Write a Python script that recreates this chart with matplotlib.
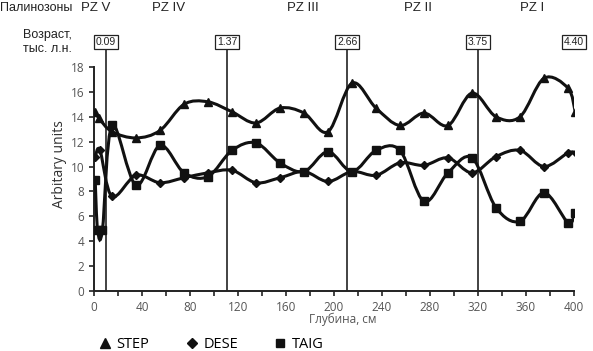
import numpy as np
import matplotlib.pyplot as plt
from matplotlib.path import Path
from matplotlib.patches import PathPatch
from matplotlib.lines import Line2D

plt.rcParams['font.family'] = ['Open Sans', 'DejaVu Sans']

# depth, cm
STEP_X = [1, 4, 15, 35, 55, 75, 95, 115, 135, 155, 175, 195, 215, 235, 255, 275, 295, 315, 335, 355, 375, 395, 401]
STEP_Y = [14.4, 13.9, 12.8, 12.3, 12.9, 15.0, 15.2, 14.4, 13.5, 14.7, 14.3, 12.8, 16.7, 14.7, 13.3, 14.3, 13.3, 15.9,
          14.0, 14.0, 17.1, 16.3, 14.4]

DESE_X = [1, 5, 15, 35, 55, 75, 95, 115, 135, 155, 175, 195, 215, 235, 255, 275, 295, 315, 335, 355, 375, 395, 402]
DESE_Y = [10.8, 11.3, 7.6, 9.3, 8.7, 9.1, 9.5, 9.7, 8.7, 9.1, 9.6, 8.8, 9.6, 9.3, 10.3, 10.1, 10.7, 9.5, 10.8, 11.3,
          10.0, 11.1, 11.1]

TAIG_X = [1, 3, 7, 15, 35, 55, 75, 95, 115, 135, 155, 175, 195, 215, 235, 255, 275, 295, 315, 335, 355, 375, 395, 401]
TAIG_Y = [8.9, 4.9, 4.9, 13.3, 8.5, 11.7, 9.5, 9.2, 11.3, 11.9, 10.3, 9.6, 11.2, 9.6, 11.3, 11.3, 7.2, 9.5, 10.7,
          6.7, 5.6, 7.9, 5.5, 6.3]

# zone borders and ages
BORDER_X = [10, 111, 211, 320]
AGE_X = [10, 111, 211, 320, 400]
AGE_LABELS = ['0.09', '1.37', '2.66', '3.75', '4.40']
ZONE_X = [1, 62, 174, 270, 365]
ZONE_LABELS = ['PZ V', 'PZ IV', 'PZ III', 'PZ II', 'PZ I']

INK = '#111111'
GREY = '#555555'
HEAD = '#222222'


def smooth_path(xs, ys):
	# excel-like smoothed line: catmull-rom segments as cubic beziers
	p = np.column_stack([xs, ys]).astype(float)
	verts = [p[0]]
	codes = [Path.MOVETO]
	n = len(p)
	for i in range(n - 1):
		p0 = p[i - 1] if i > 0 else p[i]
		p3 = p[i + 2] if i + 2 < n else p[i + 1]
		c1 = p[i] + (p[i + 1] - p0) / 6
		c2 = p[i + 1] - (p3 - p[i]) / 6
		verts += [c1, c2, p[i + 1]]
		codes += [Path.CURVE4] * 3
	return Path(verts, codes)


fig = plt.figure(figsize=(5.93, 3.51), dpi=100)
ax = fig.add_axes([94 / 593, 1 - 291 / 351, 480 / 593, 224 / 351])

for xs, ys, m, ms in [(STEP_X, STEP_Y, '^', 5.5), (DESE_X, DESE_Y, 'D', 4), (TAIG_X, TAIG_Y, 's', 5.5)]:
	ax.add_patch(PathPatch(smooth_path(xs, ys), fill=False, edgecolor=INK, lw=2.2, zorder=3))
	ax.plot(xs, ys, ls='none', marker=m, ms=ms, color=INK, zorder=4)

ax.vlines(BORDER_X, 0, 19.45, color=HEAD, lw=1.2, clip_on=False, zorder=2)
for x, lab in zip(AGE_X, AGE_LABELS):
	ax.text(x, 20.0, lab, ha='center', va='center', fontsize=7.5, family='Liberation Sans', color=HEAD,
			bbox=dict(boxstyle='square,pad=0.2', fc='white', ec=HEAD, lw=0.9), clip_on=False)
for x, lab in zip(ZONE_X, ZONE_LABELS):
	ax.text(x, 22.75, lab, ha='center', va='center', fontsize=9.5, family='Liberation Sans', color=HEAD,
			clip_on=False)

ax.set_xlim(0, 400)
ax.set_ylim(0, 18)
ax.set_xticks(np.arange(0, 401, 40))
ax.set_xticks(np.arange(0, 401, 20), minor=True)
ax.set_yticks(np.arange(0, 19, 2))
ax.tick_params(which='both', direction='out', length=3.5, width=1.2, color=HEAD, labelsize=8.5,
			   labelcolor=GREY)
for s in ['top', 'right']:
	ax.spines[s].set_visible(False)
for s in ['left', 'bottom']:
	ax.spines[s].set_linewidth(1.4)
	ax.spines[s].set_color(HEAD)

ax.set_ylabel('Arbitary units', fontsize=10, color='#333333')
ax.yaxis.set_label_coords(-27 / 480, (291 - 164) / 224)
fig.text(343 / 593, 1 - 319 / 351, 'Глубина, см', ha='center', va='center', fontsize=8.5, color=GREY)

fig.text(72 / 593, 1 - 8 / 351, 'Палинозоны', ha='right', va='center', fontsize=9, family='Liberation Sans',
		 color=HEAD)
fig.text(72 / 593, 1 - 35 / 351, 'Возраст,', ha='right', va='center', fontsize=9, family='Liberation Sans',
		 color=HEAD)
fig.text(72 / 593, 1 - 49 / 351, 'тыс. л.н.', ha='right', va='center', fontsize=9, family='Liberation Sans',
		 color=HEAD)

handles = [Line2D([], [], ls='none', marker=m, ms=ms, color=INK) for m, ms in [('^', 7), ('D', 5), ('s', 6)]]
fig.legend(handles, ['STEP', 'DESE', 'TAIG'], loc='center left', bbox_to_anchor=(99 / 593, 1 - 345 / 351),
		   ncol=3, frameon=False, fontsize=10.5, handlelength=0.8, handletextpad=0.4, columnspacing=2.5,
		   borderpad=0, borderaxespad=0)

fig.savefig('out.png', dpi=100)
